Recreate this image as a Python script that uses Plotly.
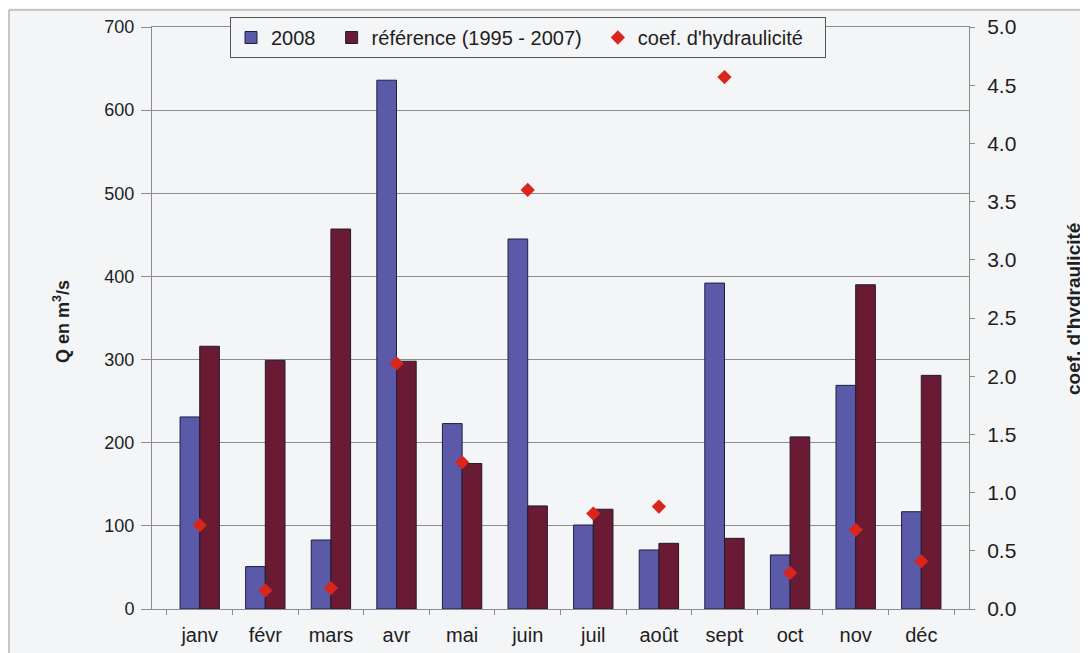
import plotly.graph_objects as go

months = ["janv", "févr", "mars", "avr", "mai", "juin", "juil", "août", "sept", "oct", "nov", "déc"]
q_2008 = [231, 51, 83, 636, 223, 445, 101, 71, 392, 65, 269, 117]
q_ref = [316, 299, 457, 298, 175, 124, 120, 79, 85, 207, 390, 281]
coef = [0.72, 0.16, 0.18, 2.11, 1.26, 3.60, 0.82, 0.88, 4.57, 0.31, 0.68, 0.41]

y_ticks = [0, 100, 200, 300, 400, 500, 600, 700]
y2_ticks = [0.0, 0.5, 1.0, 1.5, 2.0, 2.5, 3.0, 3.5, 4.0, 4.5, 5.0]

# page is offset by the default 8px body margin
OFF = 8
W, H = 1088 - OFF, 653 - OFF
L, R, T, B = 152, 969, 27, 609          # plot area in page pixels
pw, ph = R - L, B - T

def px(x):
    return (x - L) / pw

def py(y):
    return (B - y) / ph

FONT = "Liberation Sans, Arial, sans-serif"
BG = "#F3F5F7"
GRID = "#8C8C8C"
TXT = "#1E1E1E"
NB = "\u00a0"

fig = go.Figure()
fig.add_trace(go.Bar(
    x=months, y=q_2008, name="2008" + NB * 2,
    marker=dict(color="#5A5AA8", line=dict(color="#1E1E40", width=1)),
))
fig.add_trace(go.Bar(
    x=months, y=q_ref, name="référence (1995 - 2007)" + NB * 2,
    marker=dict(color="#6A1A33", line=dict(color="#1E1E30", width=1)),
))
fig.add_trace(go.Scatter(
    x=months, y=coef, name="coef. d'hydraulicité" + NB * 3, yaxis="y2",
    mode="markers",
    marker=dict(symbol="diamond", size=11, color="#D8261C", line=dict(width=0)),
))

fig.update_layout(
    width=W, height=H,
    margin=dict(l=L - OFF, r=W - (R - OFF), t=T - OFF, b=H - (B - OFF), pad=0,
                autoexpand=False),
    paper_bgcolor=BG, plot_bgcolor=BG,
    font=dict(family=FONT, size=18, color=TXT),
    barmode="group", bargap=0.4, bargroupgap=0,
    showlegend=True,
    legend=dict(
        orientation="h", x=px(230), y=py(17), xanchor="left", yanchor="top",
        bgcolor=BG, bordercolor="#555555", borderwidth=1,
        font=dict(family=FONT, size=20, color=TXT),
        itemwidth=30,
    ),
    xaxis=dict(
        type="category",
        showline=True, linecolor=GRID, linewidth=1, mirror=True,
        ticks="outside", tickson="boundaries", ticklen=5, tickcolor=GRID,
        showgrid=False, ticklabelstandoff=8, automargin=False,
        tickfont=dict(family=FONT, size=20, color=TXT),
    ),
    yaxis=dict(
        range=[0, 700], tickvals=y_ticks,
        showline=True, linecolor=GRID, linewidth=1,
        ticks="outside", ticklen=10, tickcolor=GRID,
        showgrid=True, gridcolor=GRID, gridwidth=1,
        zeroline=False, ticklabelstandoff=3, automargin=False,
        tickfont=dict(family=FONT, size=18, color=TXT),
    ),
    yaxis2=dict(
        range=[0, 5], tickvals=y2_ticks, ticktext=[f"{v:.1f}" for v in y2_ticks],
        overlaying="y", side="right",
        showline=True, linecolor=GRID, linewidth=1,
        ticks="outside", ticklen=5, tickcolor=GRID,
        showgrid=False, zeroline=False, ticklabelstandoff=8, automargin=False,
        tickfont=dict(family=FONT, size=21, color=TXT),
    ),
    annotations=[
        dict(text="<b>Q en m<sup>3</sup>/s</b>", xref="paper", yref="paper",
             x=px(61), y=py(322), xanchor="center", yanchor="middle",
             textangle=-90, showarrow=False,
             font=dict(family=FONT, size=18, color=TXT)),
        dict(text="<b>coef. d'hydraulicité</b>", xref="paper", yref="paper",
             x=px(1073), y=py(309), xanchor="center", yanchor="middle",
             textangle=-90, showarrow=False,
             font=dict(family=FONT, size=19, color=TXT)),
    ],
    shapes=[
        dict(type="line", xref="paper", yref="paper",
             x0=px(9), y0=py(10), x1=px(1100), y1=py(10),
             line=dict(color="#999999", width=1)),
        dict(type="line", xref="paper", yref="paper",
             x0=px(9), y0=py(10), x1=px(9), y1=py(660),
             line=dict(color="#999999", width=1)),
    ],
)

fig.write_html("out.html")
